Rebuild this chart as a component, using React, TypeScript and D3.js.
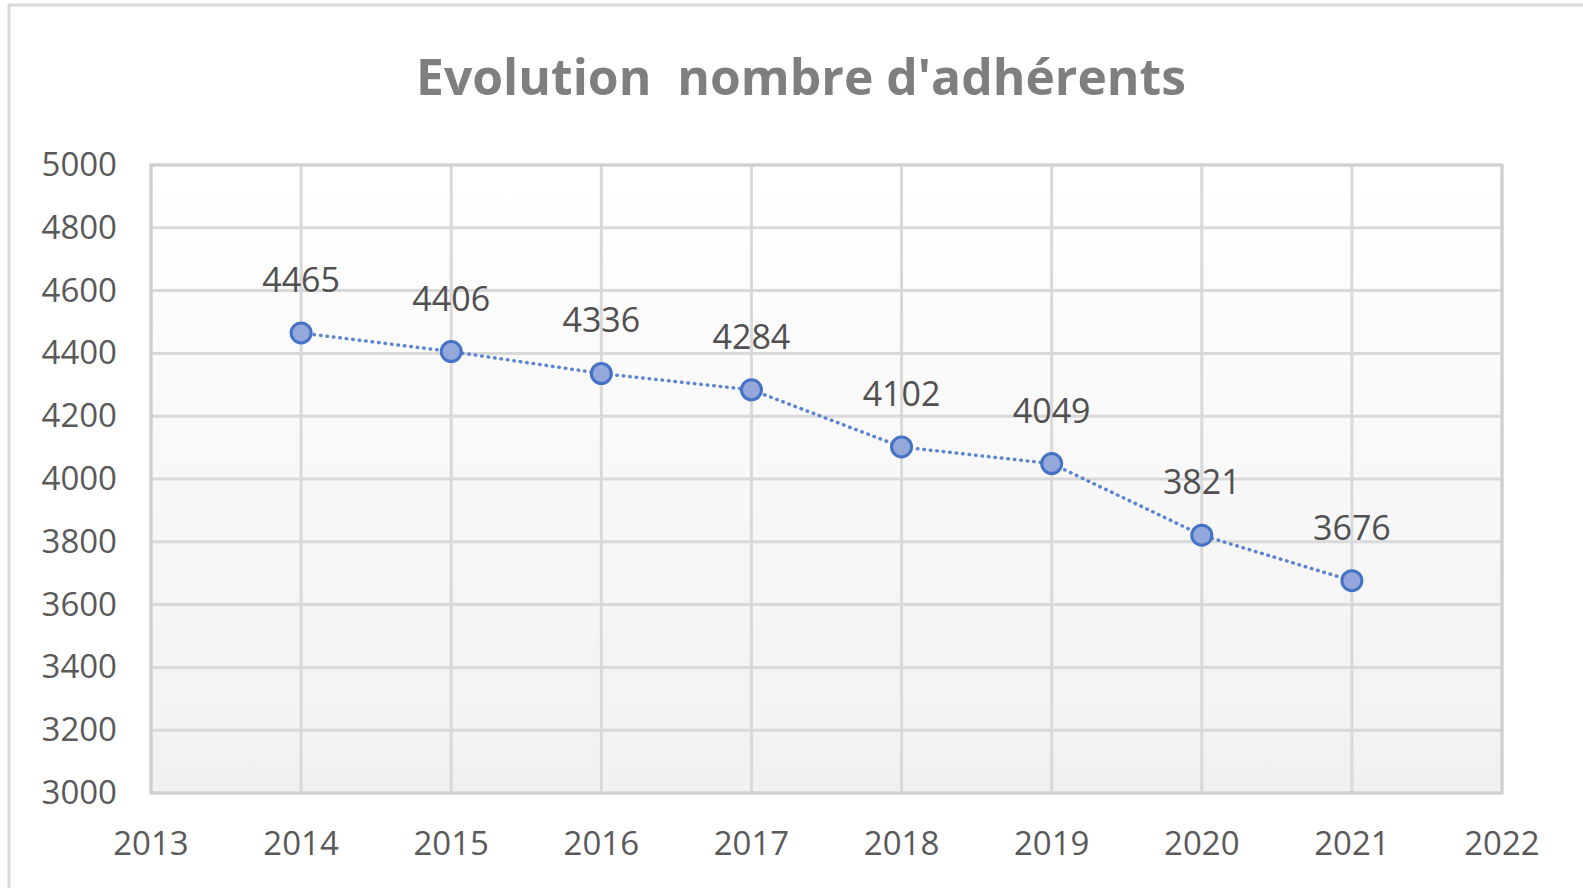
import React from "react";
import * as d3 from "d3";

const years = [2014, 2015, 2016, 2017, 2018, 2019, 2020, 2021];
const members = [4465, 4406, 4336, 4284, 4102, 4049, 3821, 3676];
const yTicks = [3000, 3200, 3400, 3600, 3800, 4000, 4200, 4400, 4600, 4800, 5000];
const xTicks = [2013, 2014, 2015, 2016, 2017, 2018, 2019, 2020, 2021, 2022];

const title = "Evolution  nombre d'adhérents";

export default function App() {
  const width = 1583;
  const height = 888;
  const left = 151;
  const right = 1502;
  const top = 165;
  const bottom = 793;

  const x = d3.scaleLinear().domain([2013, 2022]).range([left, right]);
  const y = d3.scaleLinear().domain([3000, 5000]).range([bottom, top]);

  const line = d3
    .line<number>()
    .x((_, i) => x(years[i]))
    .y(d => y(d));

  const font = "'Open Sans', 'Noto Sans', sans-serif";

  return (
    <svg
      width={width}
      height={height}
      style={{ position: "absolute", left: 0, top: 0, background: "#fff" }}
    >
      <defs>
        <linearGradient id="plotBg" x1="0" y1="0" x2="0" y2="1">
          <stop offset="0" stopColor="#ffffff" />
          <stop offset="1" stopColor="#f1f1f1" />
        </linearGradient>
      </defs>

      {/* chart frame */}
      <rect x={9} y={5} width={width + 20} height={height + 20} fill="none" stroke="#d9d9d9" strokeWidth={3} />

      {/* title */}
      <text
        x={801}
        y={95}
        textAnchor="middle"
        fontFamily={font}
        fontWeight="bold"
        fontSize={50}
        fill="#7f7f7f"
        textLength={770}
        lengthAdjust="spacingAndGlyphs"
        style={{ whiteSpace: "pre" }}
      >
        {title}
      </text>

      {/* plot area */}
      <rect x={left} y={top} width={right - left} height={bottom - top} fill="url(#plotBg)" />

      {/* gridlines */}
      <g stroke="#d9d9d9" strokeWidth={3}>
        {yTicks.map(t => (
          <line key={"h" + t} x1={left} x2={right} y1={y(t)} y2={y(t)} />
        ))}
        {xTicks.map(t => (
          <line key={"v" + t} x1={x(t)} x2={x(t)} y1={top} y2={bottom} />
        ))}
      </g>
      <rect x={left} y={top} width={right - left} height={bottom - top} fill="none" stroke="#d0d0d0" strokeWidth={3} />

      {/* axis labels */}
      <g fontFamily={font} fontSize={33} fill="#595959">
        {yTicks.map(t => (
          <text key={"yl" + t} x={117} y={y(t) + 11} textAnchor="end">
            {t}
          </text>
        ))}
        {xTicks.map(t => (
          <text key={"xl" + t} x={x(t)} y={855} textAnchor="middle">
            {t}
          </text>
        ))}
      </g>

      {/* series */}
      <path
        d={line(members) ?? ""}
        fill="none"
        stroke="#5b85d0"
        strokeWidth={3.5}
        strokeDasharray="0.5 6"
        strokeLinecap="round"
      />
      {members.map((v, i) => (
        <circle key={"p" + i} cx={x(years[i])} cy={y(v)} r={10} fill="#94a8dc" stroke="#4472c4" strokeWidth={3} />
      ))}
      <g fontFamily={font} fontSize={34} fill="#505050">
        {members.map((v, i) => (
          <text key={"dl" + i} x={x(years[i])} y={y(v) - 41} textAnchor="middle">
            {v}
          </text>
        ))}
      </g>
    </svg>
  );
}
